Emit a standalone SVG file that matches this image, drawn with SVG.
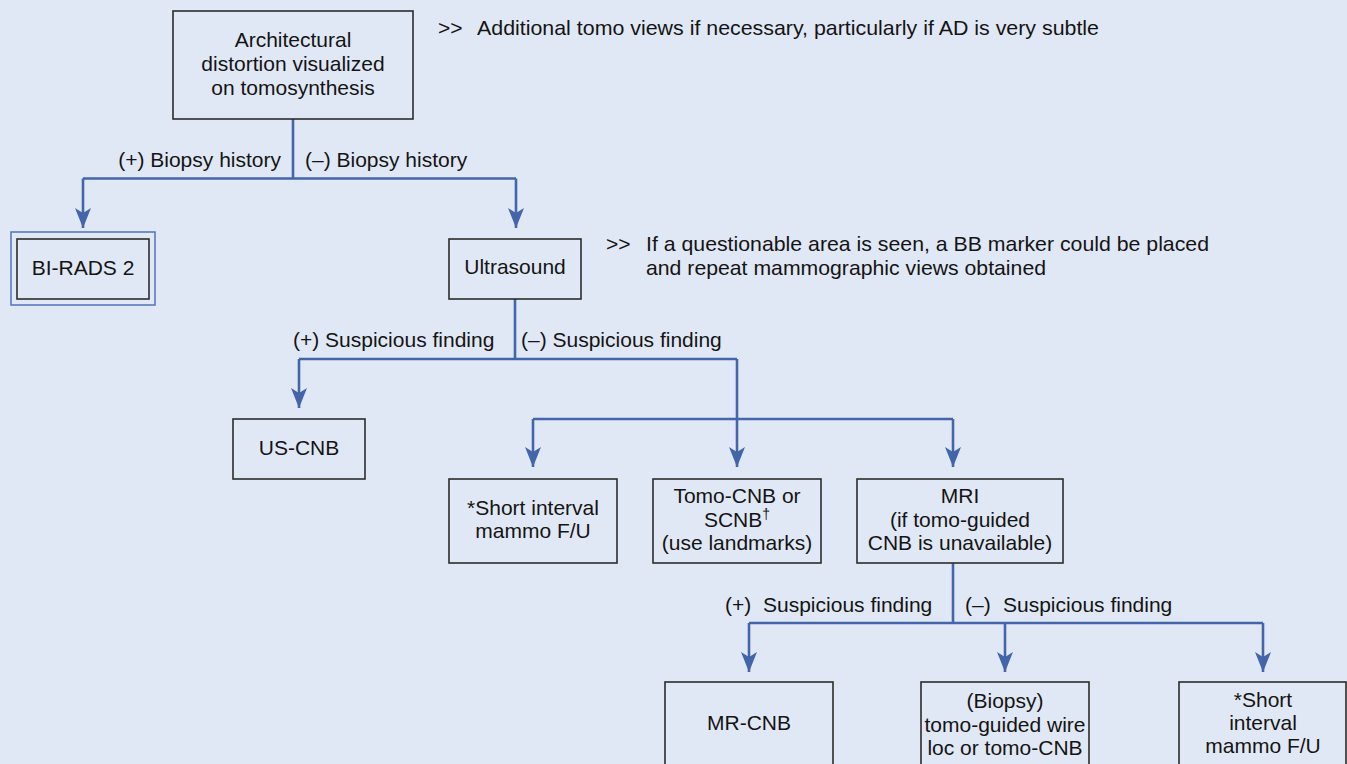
<svg xmlns="http://www.w3.org/2000/svg" width="1347" height="764" viewBox="0 0 1347 764">
  <style>
    .bg { fill: #e1e8f5; }
    .box { fill: none; stroke: #2b2b2b; stroke-width: 1.6; }
    .frame { fill: none; stroke: #5a78bd; stroke-width: 1.6; }
    .lbl { font-family: "Liberation Sans", Arial, sans-serif; font-size: 21px; fill: #141414; }
    .c { text-anchor: middle; }
    .e { text-anchor: end; }
    .wire { fill: none; stroke: #4465a9; stroke-width: 2.6; }
    .sup { font-size: 14px; }
  </style>
  <defs>
    <marker id="arrow" markerUnits="userSpaceOnUse" markerWidth="24" markerHeight="20" viewBox="-22 -10 24 20" refX="0" refY="0" orient="auto">
      <path d="M0,0 L-20,-8 L-15,0 L-20,8 Z" fill="#4465a9"/>
    </marker>
  </defs>

  <rect class="bg" x="0" y="0" width="1347" height="764"/>

  <!-- connectors -->
  <g id="connectors">
    <path class="wire" d="M293,119 V178.5 M83,178.5 H516"/>
    <path class="wire" d="M83,178.5 V228" marker-end="url(#arrow)"/>
    <path class="wire" d="M516,178.5 V228" marker-end="url(#arrow)"/>

    <path class="wire" d="M515,299 V359 M299,359 H737"/>
    <path class="wire" d="M299,359 V408" marker-end="url(#arrow)"/>
    <path class="wire" d="M737,359 V467" marker-end="url(#arrow)"/>
    <path class="wire" d="M533,419 H953"/>
    <path class="wire" d="M533,419 V467" marker-end="url(#arrow)"/>
    <path class="wire" d="M953,419 V467" marker-end="url(#arrow)"/>

    <path class="wire" d="M953,563 V623 M749,623 H1263"/>
    <path class="wire" d="M749,623 V672" marker-end="url(#arrow)"/>
    <path class="wire" d="M1005,623 V672" marker-end="url(#arrow)"/>
    <path class="wire" d="M1263,623 V672" marker-end="url(#arrow)"/>
  </g>

  <!-- branch labels -->
  <g id="edge-labels">
    <text class="lbl e" x="281" y="167">(+) Biopsy history</text>
    <text class="lbl" x="305" y="167">(–) Biopsy history</text>
    <text class="lbl" x="293" y="347">(+) Suspicious finding</text>
    <text class="lbl" x="521" y="347">(–) Suspicious finding</text>
    <text class="lbl" x="725" y="612">(+)</text>
    <text class="lbl" x="763" y="612">Suspicious finding</text>
    <text class="lbl" x="965" y="612">(–)</text>
    <text class="lbl" x="1003" y="612">Suspicious finding</text>
  </g>

  <!-- side notes -->
  <g id="note-tomo">
    <text class="lbl" x="438" y="35">&gt;&gt;</text>
    <text class="lbl" x="477" y="35" textLength="622" lengthAdjust="spacingAndGlyphs">Additional tomo views if necessary, particularly if AD is very subtle</text>
  </g>
  <g id="note-us">
    <text class="lbl" x="606" y="251">&gt;&gt;</text>
    <text class="lbl" x="646" y="251" textLength="563" lengthAdjust="spacingAndGlyphs">If a questionable area is seen, a BB marker could be placed</text>
    <text class="lbl" x="646" y="275" textLength="400" lengthAdjust="spacingAndGlyphs">and repeat mammographic views obtained</text>
  </g>

  <!-- nodes -->
  <g id="node-ad">
    <rect class="box" x="173" y="11" width="240" height="108"/>
    <text class="lbl c" x="293" y="47">Architectural</text>
    <text class="lbl c" x="293" y="71">distortion visualized</text>
    <text class="lbl c" x="293" y="95">on tomosynthesis</text>
  </g>

  <g id="node-birads2">
    <rect class="frame" x="11" y="232" width="144" height="73"/>
    <rect class="box" x="17" y="239" width="132" height="60"/>
    <text class="lbl c" x="83" y="275">BI-RADS 2</text>
  </g>

  <g id="node-us">
    <rect class="box" x="449" y="239" width="132" height="60"/>
    <text class="lbl c" x="515" y="274">Ultrasound</text>
  </g>

  <g id="node-uscnb">
    <rect class="box" x="233" y="419" width="132" height="60"/>
    <text class="lbl c" x="299" y="455">US-CNB</text>
  </g>

  <g id="node-fu1">
    <rect class="box" x="449" y="479" width="168" height="84"/>
    <text class="lbl c" x="533" y="515">*Short interval</text>
    <text class="lbl c" x="533" y="538">mammo F/U</text>
  </g>

  <g id="node-tomocnb">
    <rect class="box" x="653" y="479" width="168" height="84"/>
    <text class="lbl c" x="737" y="503">Tomo-CNB or</text>
    <text class="lbl c" x="737" y="527">SCNB<tspan class="sup" dy="-8">†</tspan></text>
    <text class="lbl c" x="737" y="550">(use landmarks)</text>
  </g>

  <g id="node-mri">
    <rect class="box" x="857" y="479" width="206" height="84"/>
    <text class="lbl c" x="960" y="503">MRI</text>
    <text class="lbl c" x="960" y="527">(if tomo-guided</text>
    <text class="lbl c" x="960" y="550">CNB is unavailable)</text>
  </g>

  <g id="node-mrcnb">
    <rect class="box" x="665" y="682" width="168" height="100"/>
    <text class="lbl c" x="749" y="730">MR-CNB</text>
  </g>

  <g id="node-wireloc">
    <rect class="box" x="921" y="682" width="168" height="100"/>
    <text class="lbl c" x="1005" y="708">(Biopsy)</text>
    <text class="lbl c" x="1005" y="732">tomo-guided wire</text>
    <text class="lbl c" x="1005" y="755">loc or tomo-CNB</text>
  </g>

  <g id="node-fu2">
    <rect class="box" x="1179" y="682" width="167" height="100"/>
    <text class="lbl c" x="1263" y="707">*Short</text>
    <text class="lbl c" x="1263" y="730">interval</text>
    <text class="lbl c" x="1263" y="753">mammo F/U</text>
  </g>
</svg>
